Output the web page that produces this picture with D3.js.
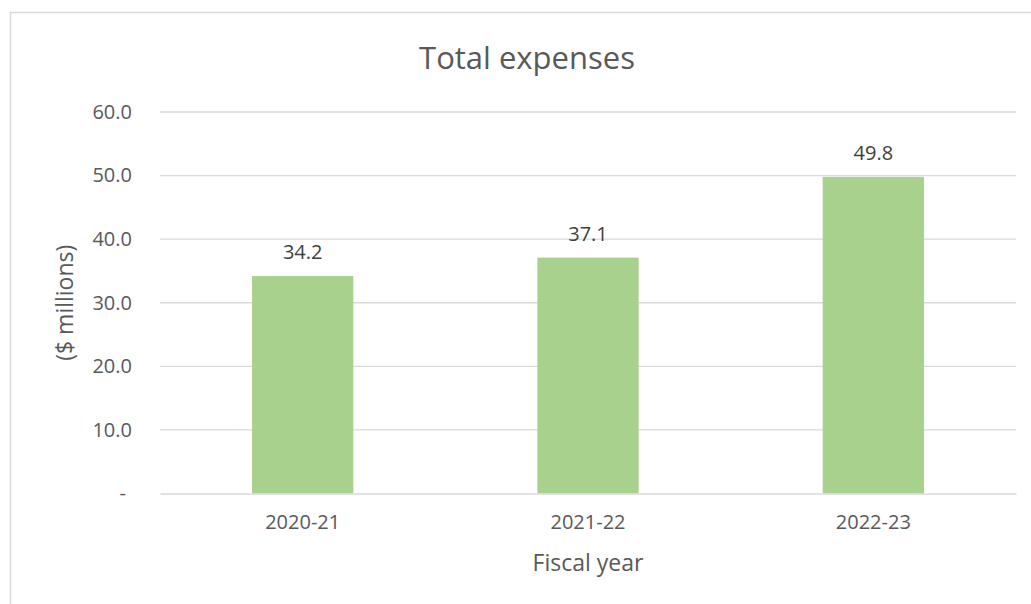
<!DOCTYPE html>
<html>
<head>
<meta charset="utf-8">
<script src="https://cdn.jsdelivr.net/npm/d3@7"></script>
<style>
  body { margin: 0; background: #fff; }
  text { font-family: "Open Sans", "Liberation Sans", sans-serif; }
</style>
</head>
<body>
<div id="chart"></div>
<script>
// data
var years = ["2020-21", "2021-22", "2022-23"];
var expenses = [34.2, 37.1, 49.8];
var yTicks = [0, 10, 20, 30, 40, 50, 60];

var svgWidth = 1031;
var svgHeight = 604;

var margin = { top: 112, right: 15, bottom: 110.5, left: 160 };
var width = svgWidth - margin.left - margin.right;
var height = svgHeight - margin.top - margin.bottom;

var svg = d3.select("#chart")
  .append("svg")
  .attr("width", svgWidth)
  .attr("height", svgHeight);

// outer chart border (runs off the page right and bottom)
svg.append("rect")
  .attr("x", 10.5)
  .attr("y", 12.5)
  .attr("width", 1040)
  .attr("height", 620)
  .attr("fill", "none")
  .attr("stroke", "#d9d9d9")
  .attr("stroke-width", 1.5);

svg.append("text")
  .attr("x", 527)
  .attr("y", 69)
  .attr("text-anchor", "middle")
  .attr("font-size", 31)
  .attr("fill", "#595959")
  .text("Total expenses");

var chartGroup = svg.append("g")
  .attr("transform", `translate(${margin.left}, ${margin.top})`);

var xScale = d3.scaleBand()
  .domain(years)
  .range([0, width]);

var yScale = d3.scaleLinear()
  .domain([0, 60])
  .range([height, 0]);

// gridlines
chartGroup.selectAll(".grid")
  .data(yTicks.filter(d => d > 0))
  .enter()
  .append("line")
  .attr("x1", 0)
  .attr("x2", width)
  .attr("y1", d => yScale(d))
  .attr("y2", d => yScale(d))
  .attr("stroke", "#d9d9d9")
  .attr("stroke-width", 1.3);

// y axis labels
var leftAxis = d3.axisLeft(yScale)
  .tickValues(yTicks)
  .tickSize(0)
  .tickPadding(28)
  .tickFormat(d => d === 0 ? "-" : d3.format(".1f")(d));

var yAxis = chartGroup.append("g").call(leftAxis);
yAxis.select(".domain").remove();
yAxis.selectAll("text")
  .attr("font-size", 20)
  .attr("fill", "#595959")
  .attr("dx", d => d === 0 ? -6 : 0);

// bars
var barW = xScale.bandwidth() * 0.355;
chartGroup.selectAll("rect")
  .data(expenses)
  .enter()
  .append("rect")
  .attr("x", (d, i) => xScale(years[i]) + (xScale.bandwidth() - barW) / 2)
  .attr("y", d => yScale(d))
  .attr("width", barW)
  .attr("height", d => height - yScale(d))
  .attr("fill", "#a9d18e");

// data labels
chartGroup.selectAll(".lbl")
  .data(expenses)
  .enter()
  .append("text")
  .attr("x", (d, i) => xScale(years[i]) + xScale.bandwidth() / 2)
  .attr("y", d => yScale(d) - 17)
  .attr("text-anchor", "middle")
  .attr("font-size", 20)
  .attr("fill", "#404040")
  .text(d => d.toFixed(1));

// x axis
var bottomAxis = d3.axisBottom(xScale).tickSize(0).tickPadding(21);
var xAxis = chartGroup.append("g")
  .attr("transform", `translate(0, ${height})`)
  .call(bottomAxis);
xAxis.select(".domain")
  .attr("stroke", "#d9d9d9")
  .attr("stroke-width", 1.5);
xAxis.selectAll("text")
  .attr("font-size", 20)
  .attr("fill", "#595959");

// axis titles
svg.append("text")
  .attr("x", margin.left + width / 2)
  .attr("y", 571)
  .attr("text-anchor", "middle")
  .attr("font-size", 23)
  .attr("fill", "#595959")
  .text("Fiscal year");

svg.append("text")
  .attr("transform", `translate(73, ${margin.top + height / 2}) rotate(-90)`)
  .attr("text-anchor", "middle")
  .attr("font-size", 23)
  .attr("fill", "#595959")
  .text("($ millions)");
</script>
</body>
</html>
